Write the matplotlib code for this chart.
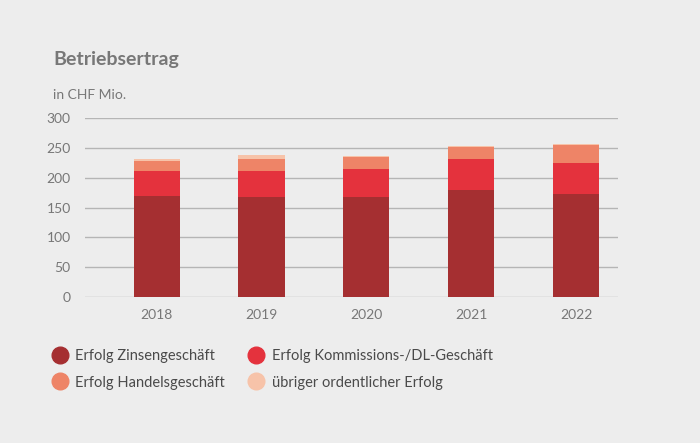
import matplotlib.pyplot as plt
from matplotlib.lines import Line2D
import numpy as np

# Daten (CHF Mio.)
years = ["2018", "2019", "2020", "2021", "2022"]
zinsen = [170, 168, 167, 179, 173]
kommission = [41, 44, 48, 53, 52]
handel = [17, 20, 19, 19, 29]
uebrige = [4, 6, 1.5, 1.5, 2]

labels = ["Erfolg Zinsengeschäft", "Erfolg Kommissions-/DL-Geschäft",
          "Erfolg Handelsgeschäft", "übriger ordentlicher Erfolg"]
colors = ["#a52f31", "#e4323d", "#ee8467", "#f7c3a9"]

bg = "#ededed"
grey = "#777777"

plt.rcParams['font.family'] = ['Lato', 'DejaVu Sans']

fig = plt.figure(figsize=(7, 4.43), dpi=100, facecolor=bg)
ax = fig.add_axes([0.121, 0.3296, 0.762, 0.404])
ax.set_facecolor(bg)

x = np.arange(len(years))
bottom = np.zeros(len(years))
for vals, col in zip([zinsen, kommission, handel, uebrige], colors):
    ax.bar(x, vals, width=0.44, bottom=bottom, color=col, zorder=3)
    bottom += np.array(vals)

ax.set_ylim(0, 300)
ax.set_xlim(-0.686, 4.4)
ax.set_yticks(range(0, 301, 50))
ax.set_xticks(x)
ax.set_xticklabels(years)
ax.grid(axis='y', color='#b5b5b5', linewidth=1, zorder=0)
ax.tick_params(length=0, colors=grey, labelsize=10)
ax.tick_params(axis='y', pad=10)
ax.tick_params(axis='x', pad=9)
for s in ax.spines.values():
    s.set_visible(False)

fig.text(53 / 700, 1 - 60 / 443, "Betriebsertrag", fontsize=14, fontweight='bold',
         color=grey, va='center')
fig.text(53 / 700, 1 - 95 / 443, "in CHF Mio.", fontsize=10, color=grey, va='center')

handles = [Line2D([], [], marker='o', linestyle='', markersize=12,
                  markerfacecolor=c, markeredgecolor=c) for c in colors]
order = [0, 2, 1, 3]
fig.legend([handles[i] for i in order], [labels[i] for i in order], ncol=2,
           loc='upper left', bbox_to_anchor=(36 / 700, 1 - 336 / 443),
           frameon=False, fontsize=10.5, labelcolor='#4a4a4a',
           handlelength=1.5, handletextpad=0.3, columnspacing=1.4,
           labelspacing=0.85)

fig.savefig("out.png", dpi=100, facecolor=bg)
